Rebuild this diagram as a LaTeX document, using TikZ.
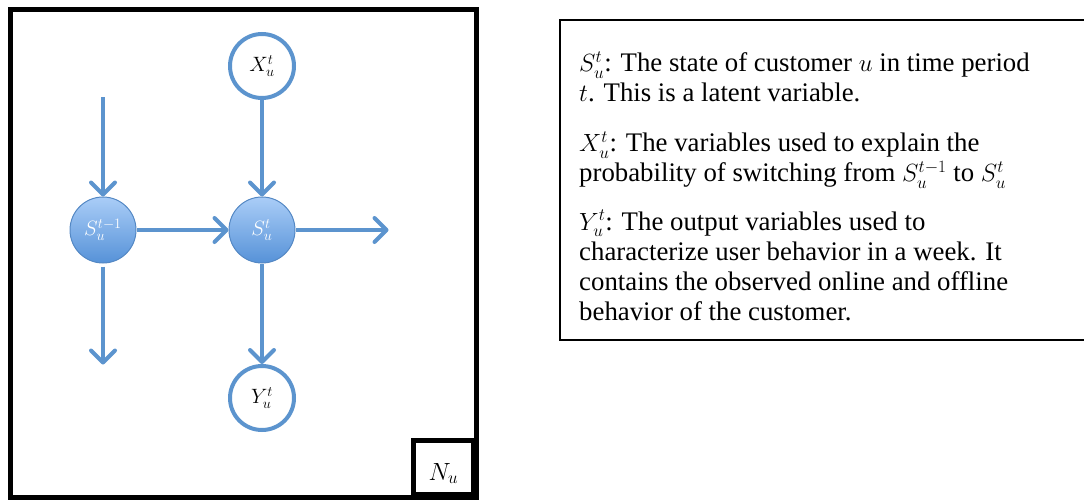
\documentclass[tikz,border=0pt]{standalone}
\usepackage{fontspec}
\setmainfont{Liberation Serif}
\usetikzlibrary{arrows.meta,positioning}
\definecolor{linkblue}{RGB}{92,148,206}
\definecolor{stop}{RGB}{170,205,247}
\definecolor{sbot}{RGB}{86,146,216}
\definecolor{sedge}{RGB}{84,136,196}
\tikzset{
  latent/.style={circle, draw=sedge, line width=1pt, top color=stop, bottom color=sbot, minimum size=66pt, inner sep=0pt, text=white, font=\fontsize{22}{24}\selectfont},
  obs/.style={circle, draw=linkblue, line width=4pt, fill=white, minimum size=64pt, inner sep=0pt, font=\fontsize{22}{24}\selectfont},
  link/.style={draw=linkblue, line width=4pt, -{Straight Barb[length=12pt,width=24pt,round]}},
  para/.style={anchor=base west, align=left, inner sep=0pt, font=\fontsize{26.8}{30}\selectfont},
}

\begin{document}
\begin{tikzpicture}[x=1pt, y=-1pt]
    \useasboundingbox (0,0) rectangle (1084,500);

    % Plate
    \draw[line width=5pt] (10,10) rectangle (476,497);
    \node[draw, line width=5pt, minimum width=60pt, minimum height=54pt, anchor=south east, font=\fontsize{24}{26}\selectfont, text depth=0pt, yshift=0pt] (nu) at (476,497) {\raisebox{-8pt}{$N_u$}};

    % Variables
    \node[obs] (x) at (262,66) {$X_u^t$};
    \node[latent] (s) at (262,230) {$S_u^t$};
    \node[latent] (sp) at (103,230) {$S_u^{t-1}$};
    \node[obs] (y) at (262,398) {$Y_u^t$};

    % Free ends
    \coordinate[above=99pt of sp.north] (spin);
    \coordinate[below=101pt of sp.south] (spout);
    \coordinate[right=93pt of s.east] (sout);

    % Links
    \draw[link] (spin) -- (sp.north);
    \draw[link, shorten <=3pt] (sp.south) -- (spout);
    \draw[link] (sp.east) -- (s.west);
    \draw[link] (s.east) -- (sout);
    \draw[link] (x.south) -- (s.north);
    \draw[link] (s.south) -- (y.north);

    % Legend
    \draw[line width=1.5pt] (1085,20) -- (560,20) -- (560,340) -- (1085,340);
    \node[para] (p1) at (579,102) {$S_u^t$: The state of customer $u$ in time period\\$t$. This is a latent variable.};
    \node[para] (p2) at (579,182) {$X_u^t$: The variables used to explain the\\probability of switching from $S_u^{t-1}$ to $S_u^t$};
    \node[para] (p3) at (579,320) {$Y_u^t$: The output variables used to\\characterize user behavior in a week. It\\contains the observed online and offline\\behavior of the customer.};
\end{tikzpicture}
\end{document}
